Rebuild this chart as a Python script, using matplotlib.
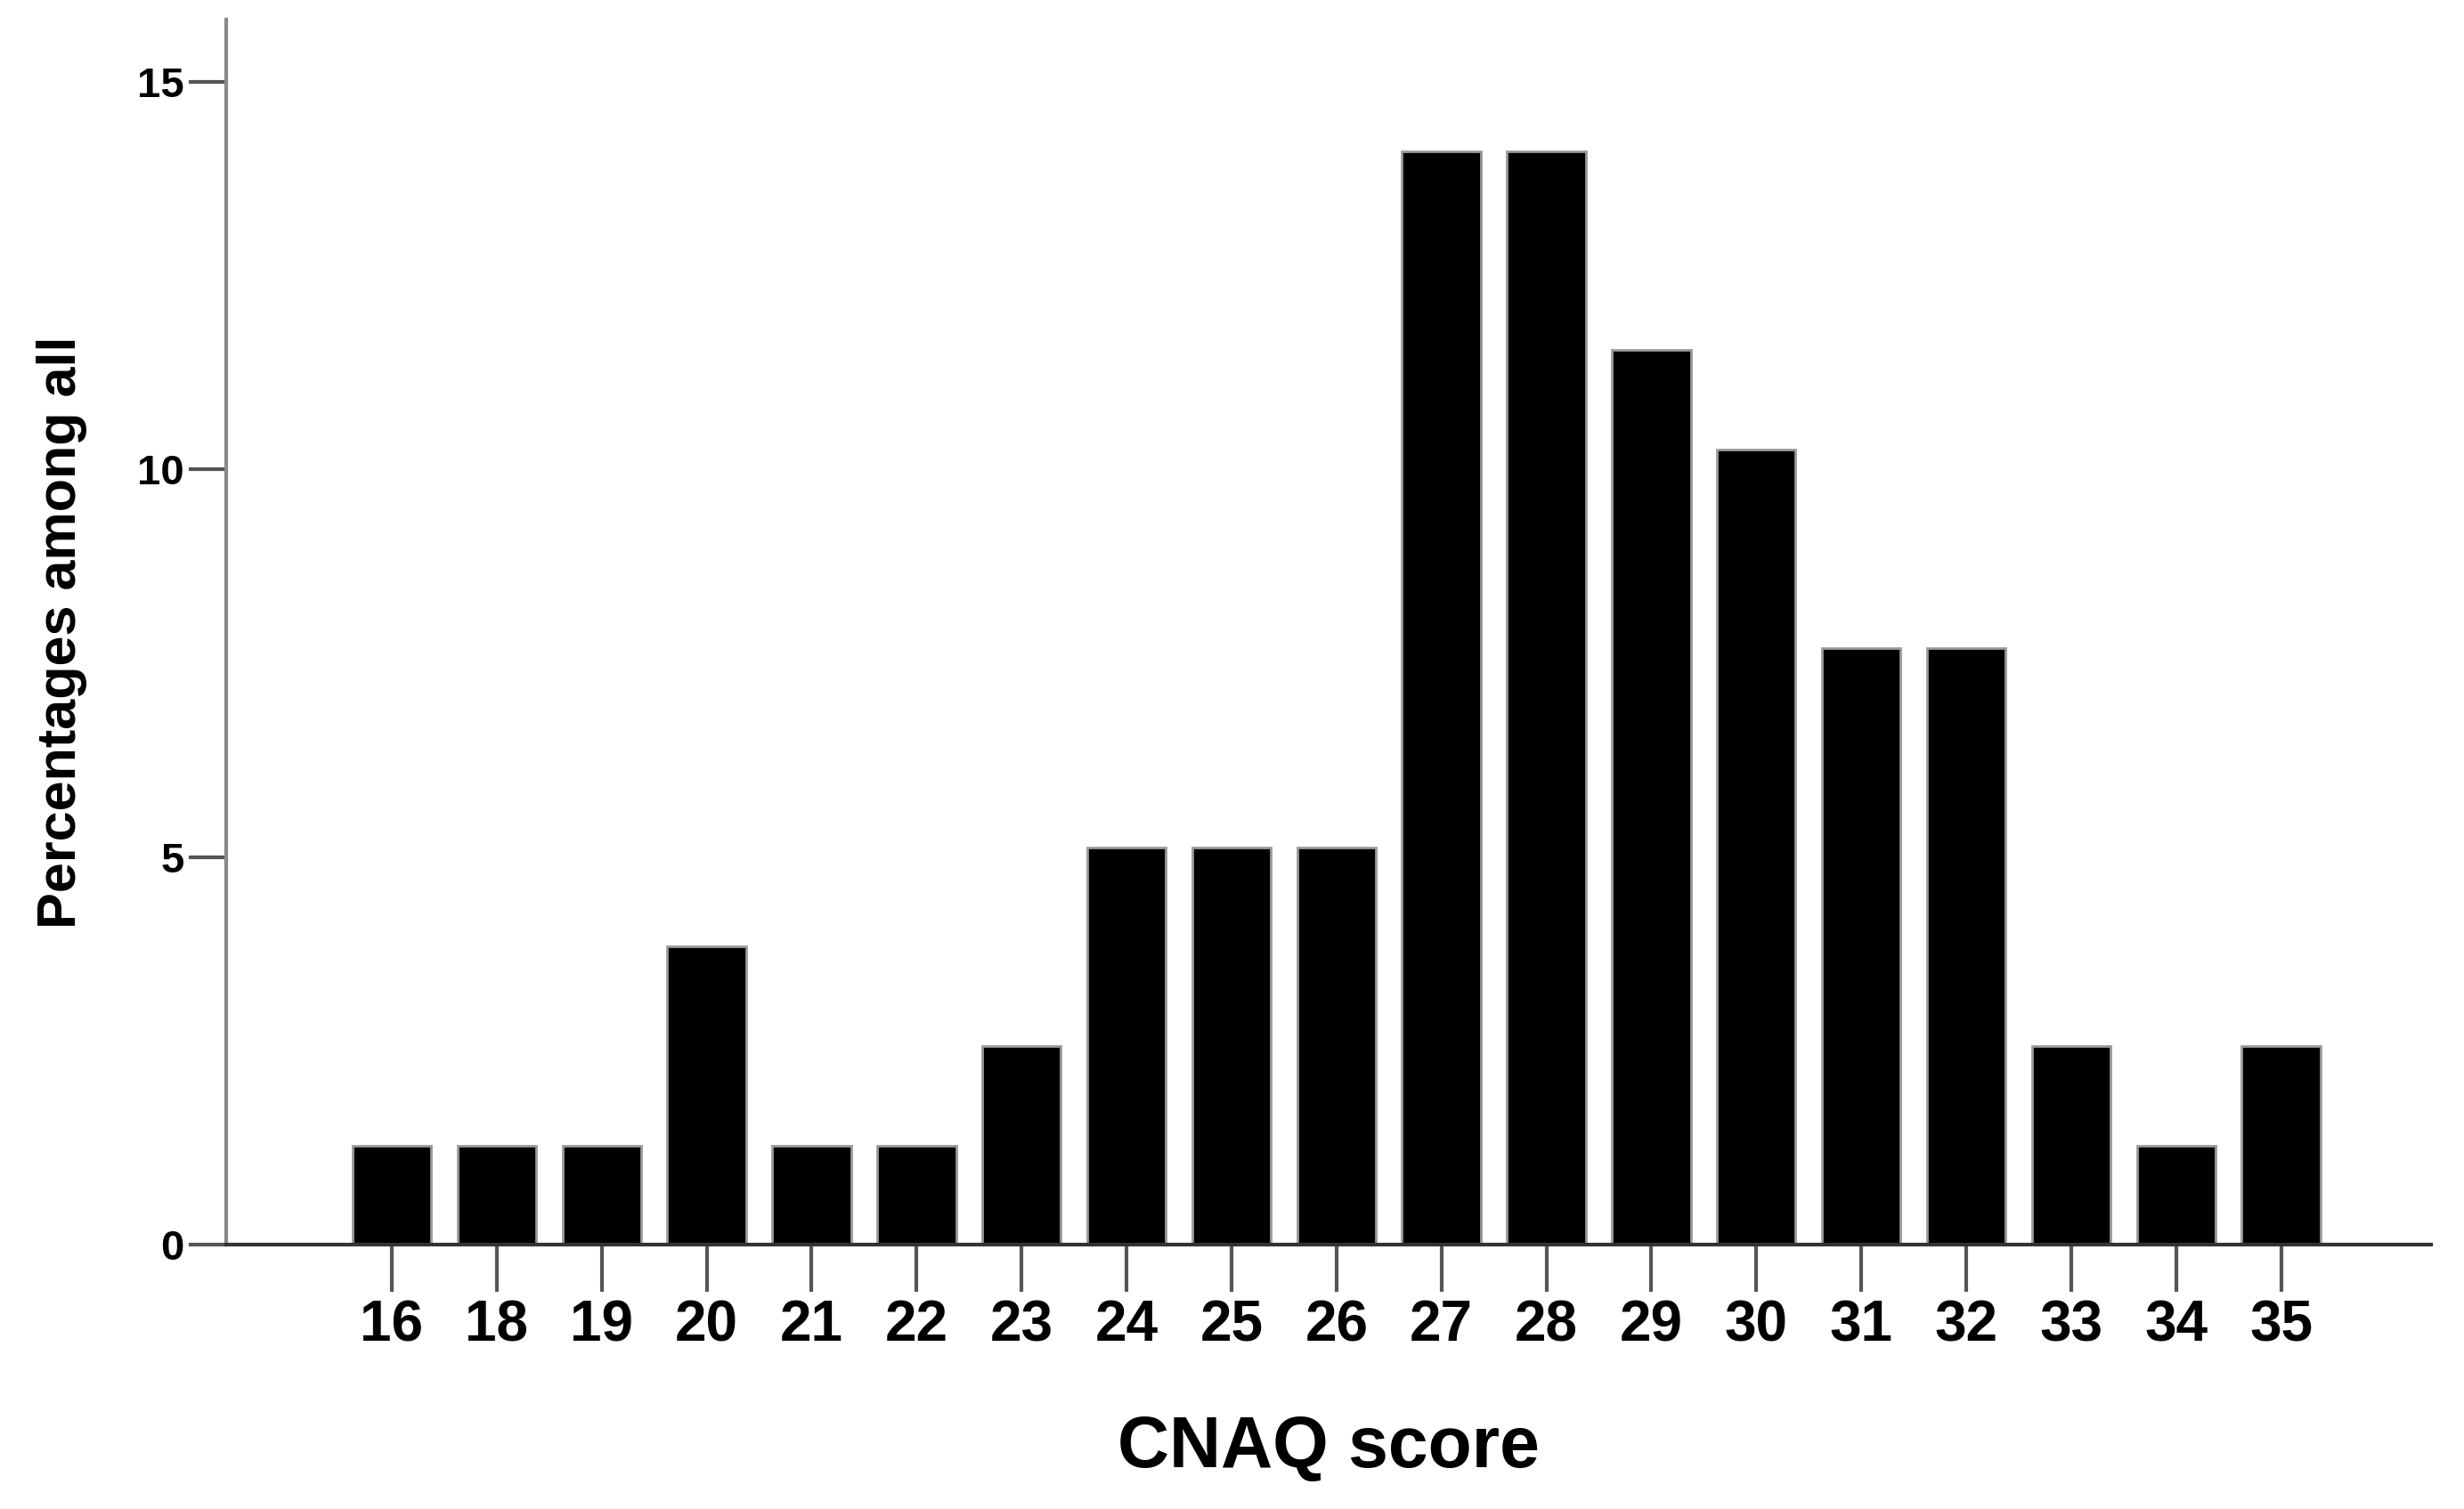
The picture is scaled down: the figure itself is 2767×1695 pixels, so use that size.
import matplotlib
matplotlib.use("Agg")
import matplotlib.pyplot as plt
import numpy as np

categories = ["16","18","19","20","21","22","23","24","25","26","27","28","29","30","31","32","33","34","35"]
counts = [1,1,1,3,1,1,2,4,4,4,11,11,9,8,6,6,2,1,2]
total = 78
values = [c/total*100 for c in counts]

plt.rcParams['font.family'] = ['Liberation Sans', 'DejaVu Sans']
fig = plt.figure(figsize=(27.67,16.95), dpi=100)
ax = fig.add_axes([0.0917, 0.175, 0.895, 0.812])
x = np.arange(len(categories))
ax.bar(x, values, width=0.75, color='black', edgecolor='#9a9a9a', linewidth=2)
ax.set_xlim(-1.58, 19.43)
ax.set_ylim(0, 15.8)
ax.set_xticks(x)
ax.set_xticklabels(categories, fontsize=46, fontweight='bold')
ax.set_yticks([0,5,10,15])
ax.set_yticklabels(["0","5","10","15"], fontsize=34, fontweight='bold')
ax.tick_params(axis='x', length=38, width=3, color='#555555', pad=6)
ax.tick_params(axis='y', length=30, width=3, color='#555555', pad=4)
for s in ['top','right']:
    ax.spines[s].set_visible(False)
ax.spines['left'].set_color('#888888')
ax.spines['left'].set_linewidth(3)
ax.spines['bottom'].set_color('#333333')
ax.spines['bottom'].set_linewidth(3)
ax.set_xlabel("CNAQ score", fontsize=58, fontweight='bold', labelpad=50)
ax.set_ylabel("Percentages among all", fontsize=44, fontweight='bold', labelpad=40)
fig.savefig("out.png", dpi=100)
